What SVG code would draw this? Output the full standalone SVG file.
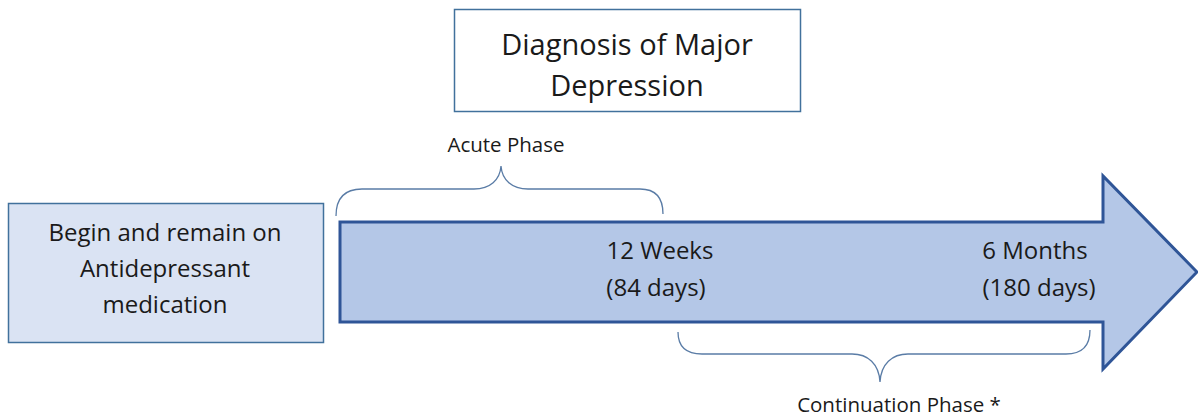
<svg xmlns="http://www.w3.org/2000/svg" width="1198" height="417" viewBox="0 0 1198 417">
<style>
.t{font-family:"Open Sans","Liberation Sans",sans-serif;fill:#1a1a1a;text-anchor:middle}
.big{font-size:29px}
.mid{font-size:24px}
.sm{font-size:20.5px}
.brace{fill:none;stroke:#5a7ca6;stroke-width:1.3}
</style>
<rect width="1198" height="417" fill="#ffffff"/>
<g id="diagnosis">
<rect x="454.5" y="9.5" width="346" height="102" fill="#ffffff" stroke="#41719c" stroke-width="1.5"/>
<text class="t big" x="627" y="55">Diagnosis of Major</text>
<text class="t big" x="627" y="96">Depression</text>
</g>
<g id="begin">
<rect x="8.5" y="203.5" width="315" height="139" fill="#dae3f3" stroke="#41719c" stroke-width="1.5"/>
<text class="t mid" x="165" y="241">Begin and remain on</text>
<text class="t mid" x="165" y="277">Antidepressant</text>
<text class="t mid" x="165" y="313">medication</text>
</g>
<g id="timeline">
<path d="M340,222 L1103,222 L1103,176 L1197,272 L1103,369 L1103,322 L340,322 Z" fill="#b4c7e7" stroke="#2f5597" stroke-width="3" stroke-linejoin="miter"/>
<text class="t mid" x="660" y="259">12 Weeks</text>
<text class="t mid" x="656" y="296">(84 days)</text>
<text class="t mid" x="1035" y="259">6 Months</text>
<text class="t mid" x="1039" y="296">(180 days)</text>
</g>
<g id="connectors">
<path class="brace" d="M336,216 C336,198 345,189 362,189 L474,189 C490,189 500,180 501,166 C502,180 512,189 528,189 L640,189 C656,189 663,198 663,214"/>
<path class="brace" d="M678,332 C678,346 686,354 702,354 L852,354 C868,354 879,364 880,382 C881,364 892,354 908,354 L1066,354 C1082,354 1090,346 1090,330"/>
</g>
<g id="labels">
<text class="t sm" x="506" y="152">Acute Phase</text>
<text class="t sm" x="899" y="412">Continuation Phase *</text>
</g>
</svg>
